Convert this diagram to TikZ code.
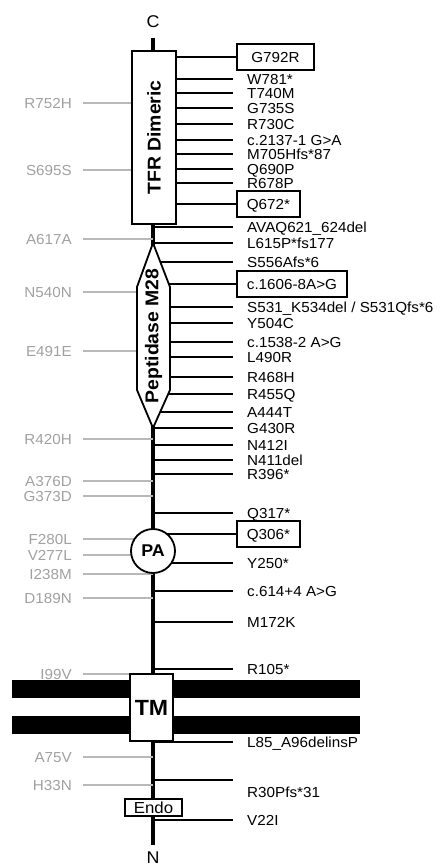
\documentclass[tikz,border=0pt]{standalone}
\usepackage{fontspec}
\setmainfont{Liberation Sans}[FakeStretch=1.05]
\usepackage{xcolor}
\usepackage{tikz}
\usetikzlibrary{positioning,calc}
\definecolor{synGray}{HTML}{A0A0A0}
\tikzset{
  axisline/.style={line width=4pt},
  mline/.style={line width=1.8pt},
  sline/.style={line width=1.4pt,draw=synGray!75},
  mut/.style={anchor=west,inner sep=0pt,text height=10.4pt,text depth=0pt,font=\fontsize{14.5}{16}\selectfont},
  mutbox/.style={draw,line width=1.8pt,anchor=west,inner xsep=10pt,inner ysep=0pt,minimum height=26pt,text height=10.4pt,text depth=0pt,font=\fontsize{14.5}{16}\selectfont},
  syn/.style={anchor=east,inner sep=0pt,text height=10.4pt,text depth=0pt,text=synGray,font=\fontsize{14.5}{16}\selectfont},
  dom/.style={draw,line width=1.8pt,fill=white,font=\bfseries\fontsize{18.5}{20}\selectfont},
  band/.style={fill=black}
}

\begin{document}
\begin{tikzpicture}[x=1pt,y=-1pt]
\useasboundingbox (0,0) rectangle (437,866);
\node[font=\fontsize{17}{19}\selectfont] (cterm) at (153,22) {C};
\node[font=\fontsize{17}{19}\selectfont] (nterm) at (153,858) {N};
\coordinate (top) at (153,38);
\coordinate (bot) at (153,845);
\fill[band] (12,680) rectangle (360,698);
\fill[band] (12,716) rectangle (360,734);
\draw[axisline] (top) -- (bot);

\foreach \y/\t [count=\i] in {79/W781*, 93/T740M, 108/G735S, 124/R730C, 140/c.2137-1 G>A,
  154/M705Hfs*87, 169/Q690P, 183/R678P, 227/AVAQ621\_624del, 243/L615P*fs177,
  262/S556Afs*6, 307/{S531\_K534del / S531Qfs*6}, 323/Y504C, 342/c.1538-2 A>G,
  357/L490R, 377/R468H, 394/R455Q, 412/A444T, 428/G430R, 445/N412I, 460/N411del,
  474/R396*, 513/Q317*, 563/Y250*, 591/c.614+4 A>G, 622/M172K, 669/R105*,
  742/L85\_A96delinsP, 820/V22I} {
  \node[mut] (m\i) at (247,\y) {\t};
  \draw[mline] (top |- m\i.west) -- ([xshift=-14pt]m\i.west);
}
\foreach \y/\t/\w [count=\i] in {57/G792R/77, 204/Q672*/0, 284/c.1606-8A>G/0, 534/Q306*/0} {
  \node[mutbox,minimum width=\w pt] (b\i) at (236,\y) {\t};
  \draw[mline] (top |- b\i.west) -- (b\i.west);
}
\node[mut] (r30) at (247,792) {R30Pfs*31};
\coordinate (r30end) at (233,780);
\draw[mline] (top |- r30end) -- (r30end);

\foreach \y/\t [count=\i] in {103/R752H, 170/S695S, 239/A617A, 292/N540N, 351/E491E,
  439/R420H, 481/A376D, 496/G373D, 539/F280L, 555/V277L, 574/I238M, 598/D189N,
  674/I99V, 757/A75V, 785/H33N} {
  \node[syn] (s\i) at (72,\y) {\t};
  \draw[sline] ([xshift=11pt]s\i.east) -- (top |- s\i.east);
}

\node[dom,rotate=90,minimum width=173pt,minimum height=44pt] (tfr) at (154,137.5) {TFR Dimeric};
\draw[dom] (153,243) -- (170,287) -- (170,390) -- (153,428) -- (137,390) -- (137,287) -- cycle;
\node[rotate=90,font=\bfseries\fontsize{18.5}{20}\selectfont] (pep) at (153.5,336) {Peptidase M28};
\node[dom,circle,minimum size=44pt,inner sep=0pt,font=\bfseries\fontsize{17}{18}\selectfont] (pa) at (153,551) {PA};
\node[dom,minimum width=43pt,minimum height=67pt,font=\bfseries\fontsize{22}{24}\selectfont] (tm) at (151.5,707.5) {TM};
\node[dom,minimum width=57pt,minimum height=17pt,inner sep=0pt,font=\fontsize{16}{17}\selectfont] (endo) at (153.5,807.5) {Endo};
\end{tikzpicture}
\end{document}
